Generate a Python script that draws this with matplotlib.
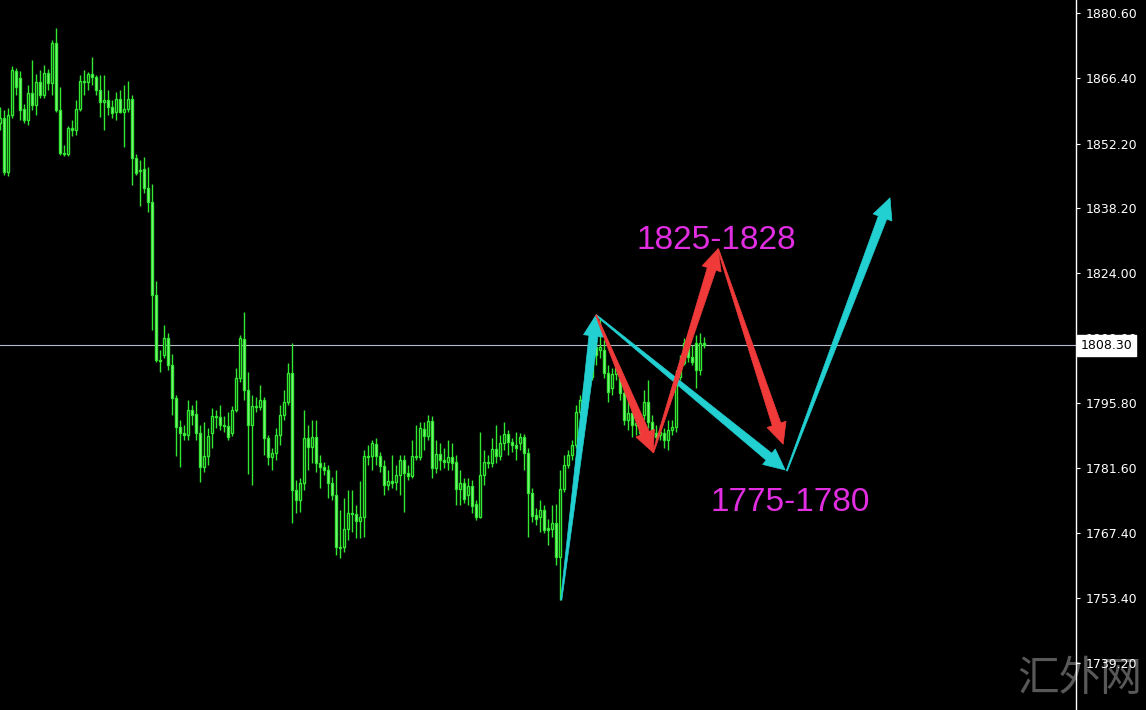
import matplotlib.pyplot as plt
import numpy as np
from matplotlib.patches import Polygon

# OHLC (one candle per bar, oldest first)
opens = [
    1856.7, 1857.8, 1846.0, 1858.4, 1868.0, 1866.5, 1859.7, 1857.3, 1863.2, 1860.6,
    1865.6, 1862.8, 1867.6, 1865.4, 1874.1, 1859.5, 1850.2, 1850.0, 1855.6, 1855.2,
    1859.7, 1865.8, 1865.6, 1867.3, 1866.7, 1863.8, 1861.2, 1861.7, 1860.2, 1859.1,
    1861.9, 1859.1, 1859.7, 1861.9, 1849.0, 1846.4, 1846.7, 1842.5, 1839.5, 1819.3,
    1805.1, 1806.2, 1809.9, 1804.0, 1796.9, 1790.5, 1789.2, 1788.8, 1794.3, 1793.4,
    1789.2, 1781.9, 1784.3, 1789.2, 1792.9, 1792.7, 1791.0, 1790.8, 1789.2, 1794.3,
    1801.2, 1809.7, 1798.6, 1791.0, 1795.1, 1794.9, 1796.4, 1788.1, 1784.0, 1784.9,
    1788.8, 1793.2, 1796.0, 1802.3, 1776.8, 1774.7, 1778.4, 1788.1, 1786.2, 1788.4,
    1782.7, 1781.9, 1781.2, 1778.4, 1775.8, 1764.4, 1764.4, 1768.4, 1771.8, 1771.6,
    1770.1, 1770.9, 1784.3, 1784.3, 1786.9, 1784.3, 1782.1, 1777.9, 1778.8, 1778.6,
    1780.1, 1783.4, 1780.5, 1779.9, 1784.0, 1784.0, 1790.1, 1788.6, 1791.9, 1781.6,
    1784.7, 1783.4, 1782.9, 1784.0, 1782.9, 1777.1, 1778.4, 1775.8, 1777.7, 1773.8,
    1771.0, 1780.1, 1782.9, 1782.7, 1785.8, 1784.3, 1787.1, 1789.0, 1787.3, 1786.6,
    1787.1, 1788.4, 1784.9, 1776.2, 1771.4, 1770.9, 1772.5, 1768.6, 1768.4, 1769.7,
    1762.3, 1777.1, 1782.3, 1784.5, 1786.6, 1793.8, 1796.4, 1799.0, 1801.4, 1807.9,
    1807.3, 1807.3, 1802.3, 1799.0, 1802.1, 1801.4, 1797.9, 1792.1, 1793.6, 1791.0,
    1791.4, 1793.2, 1796.0, 1791.6, 1789.2, 1788.8, 1789.2, 1787.7, 1789.9, 1790.5,
    1801.4, 1804.5, 1808.8, 1805.8, 1808.8, 1802.9, 1808.8,
]
highs = [
    1860.2, 1859.5, 1859.9, 1869.1, 1868.6, 1868.0, 1860.8, 1864.9, 1870.4, 1867.3,
    1868.2, 1869.3, 1868.4, 1874.7, 1877.3, 1864.5, 1851.8, 1856.0, 1857.3, 1861.7,
    1867.1, 1868.2, 1867.8, 1871.0, 1867.1, 1867.1, 1867.1, 1863.8, 1861.7, 1863.4,
    1863.8, 1864.9, 1865.8, 1862.8, 1850.0, 1848.6, 1849.3, 1847.1, 1843.4, 1822.3,
    1807.3, 1812.7, 1811.0, 1806.4, 1797.5, 1792.1, 1791.0, 1796.4, 1795.3, 1796.4,
    1791.0, 1791.6, 1790.3, 1794.7, 1794.3, 1795.3, 1792.9, 1793.8, 1795.1, 1803.4,
    1810.6, 1815.6, 1802.5, 1797.5, 1797.0, 1799.7, 1797.0, 1788.8, 1786.0, 1790.3,
    1795.3, 1798.6, 1804.5, 1808.8, 1779.0, 1779.5, 1794.3, 1791.0, 1792.1, 1792.1,
    1784.5, 1782.9, 1782.3, 1779.7, 1781.2, 1772.5, 1775.1, 1776.8, 1776.8, 1773.6,
    1778.8, 1785.5, 1786.6, 1787.7, 1788.1, 1785.1, 1783.4, 1781.2, 1784.5, 1782.3,
    1784.5, 1784.5, 1782.3, 1787.7, 1791.0, 1791.6, 1791.6, 1793.2, 1792.9, 1787.7,
    1787.1, 1786.0, 1787.7, 1787.1, 1784.5, 1781.2, 1779.5, 1779.5, 1779.0, 1774.7,
    1789.4, 1785.5, 1784.5, 1788.1, 1791.0, 1788.8, 1791.6, 1789.9, 1788.1, 1789.4,
    1789.2, 1789.0, 1786.0, 1777.3, 1772.9, 1774.7, 1773.6, 1770.5, 1773.6, 1773.8,
    1781.2, 1784.5, 1785.5, 1787.7, 1795.3, 1797.5, 1799.7, 1806.2, 1811.6, 1809.5,
    1814.3, 1809.5, 1804.0, 1803.4, 1805.1, 1803.4, 1799.7, 1796.4, 1795.3, 1793.2,
    1792.5, 1798.6, 1800.8, 1793.2, 1791.0, 1791.0, 1790.3, 1792.1, 1792.1, 1802.9,
    1806.2, 1809.9, 1810.6, 1808.4, 1810.6, 1811.0, 1810.1,
]
lows = [
    1855.2, 1845.4, 1845.2, 1857.8, 1862.8, 1857.3, 1856.7, 1856.2, 1859.5, 1858.4,
    1862.1, 1862.1, 1863.8, 1862.8, 1859.1, 1849.7, 1849.5, 1849.5, 1853.8, 1854.1,
    1859.3, 1862.8, 1863.8, 1864.9, 1862.8, 1858.0, 1855.2, 1858.4, 1857.8, 1857.3,
    1858.8, 1851.4, 1859.1, 1843.2, 1845.4, 1838.6, 1841.4, 1837.3, 1811.7, 1804.7,
    1802.5, 1805.6, 1802.9, 1793.2, 1784.3, 1781.9, 1787.7, 1787.7, 1791.0, 1787.7,
    1778.6, 1780.8, 1782.3, 1786.0, 1790.3, 1789.9, 1789.4, 1787.7, 1788.6, 1793.8,
    1800.3, 1796.4, 1780.3, 1777.9, 1793.8, 1794.3, 1784.5, 1782.3, 1781.2, 1783.4,
    1786.6, 1792.1, 1795.3, 1769.7, 1771.8, 1772.0, 1776.8, 1781.2, 1782.7, 1780.8,
    1777.3, 1780.1, 1775.1, 1774.7, 1762.7, 1762.0, 1763.4, 1766.0, 1767.7, 1766.4,
    1766.4, 1766.6, 1782.3, 1781.2, 1782.3, 1780.8, 1775.8, 1776.8, 1777.3, 1776.8,
    1775.8, 1772.0, 1779.0, 1779.5, 1783.4, 1783.4, 1785.5, 1787.7, 1779.5, 1780.5,
    1781.2, 1781.6, 1781.2, 1781.2, 1773.6, 1773.6, 1774.0, 1773.6, 1771.8, 1770.3,
    1770.8, 1777.9, 1781.6, 1781.9, 1782.7, 1783.4, 1785.5, 1784.5, 1785.1, 1783.4,
    1785.5, 1781.2, 1766.6, 1769.9, 1769.2, 1767.7, 1767.5, 1764.9, 1766.6, 1760.5,
    1752.9, 1776.4, 1781.6, 1783.4, 1786.0, 1793.2, 1795.3, 1798.2, 1800.8, 1804.0,
    1805.6, 1801.2, 1796.0, 1797.5, 1800.8, 1796.4, 1791.0, 1789.9, 1788.4, 1788.8,
    1788.1, 1792.1, 1790.3, 1787.7, 1787.3, 1787.7, 1786.0, 1785.5, 1788.8, 1789.4,
    1800.8, 1804.0, 1804.7, 1804.0, 1799.0, 1801.9, 1807.7,
]
closes = [
    1857.8, 1846.0, 1858.4, 1868.2, 1864.5, 1859.5, 1857.3, 1863.2, 1860.6, 1865.6,
    1862.8, 1867.6, 1865.4, 1874.1, 1859.5, 1850.2, 1850.0, 1855.6, 1855.2, 1859.7,
    1865.8, 1865.6, 1867.3, 1866.7, 1863.8, 1861.2, 1861.7, 1860.2, 1858.8, 1861.9,
    1859.1, 1859.7, 1861.9, 1849.0, 1845.8, 1846.2, 1842.5, 1839.5, 1819.3, 1805.1,
    1804.9, 1809.9, 1804.0, 1796.9, 1790.5, 1789.2, 1788.8, 1794.3, 1793.2, 1789.2,
    1781.9, 1784.3, 1788.6, 1792.9, 1792.7, 1791.0, 1790.8, 1788.4, 1794.3, 1801.2,
    1809.9, 1798.6, 1791.0, 1795.1, 1794.9, 1796.4, 1788.1, 1784.0, 1784.9, 1788.8,
    1793.2, 1796.0, 1802.3, 1776.8, 1774.7, 1778.4, 1788.1, 1786.2, 1788.4, 1782.7,
    1781.9, 1781.2, 1778.4, 1775.8, 1764.4, 1764.2, 1768.4, 1771.8, 1771.6, 1770.1,
    1770.9, 1784.3, 1784.0, 1787.1, 1784.3, 1782.1, 1777.9, 1778.8, 1778.4, 1780.1,
    1783.4, 1780.5, 1779.9, 1784.3, 1784.3, 1790.3, 1788.6, 1791.9, 1781.6, 1784.7,
    1783.4, 1782.9, 1784.0, 1782.7, 1777.1, 1778.4, 1774.9, 1777.7, 1773.4, 1771.0,
    1780.1, 1782.9, 1782.7, 1785.8, 1784.3, 1787.1, 1789.0, 1787.3, 1786.6, 1786.0,
    1788.4, 1784.9, 1776.2, 1771.2, 1770.5, 1772.5, 1768.1, 1768.1, 1769.7, 1762.3,
    1777.1, 1782.3, 1784.5, 1786.6, 1793.8, 1796.4, 1799.0, 1801.4, 1807.9, 1806.2,
    1807.9, 1802.3, 1798.2, 1802.1, 1803.4, 1797.9, 1792.1, 1793.6, 1791.0, 1791.4,
    1789.2, 1796.0, 1791.6, 1788.8, 1788.4, 1789.4, 1787.7, 1789.9, 1790.5, 1801.4,
    1804.5, 1808.8, 1805.8, 1804.7, 1802.9, 1808.8, 1808.3,
]

ytick_vals = [1880.6, 1866.4, 1852.2, 1838.2, 1824.0, 1809.9, 1795.8, 1781.6, 1767.4, 1753.4, 1739.2]
last_price = 1808.30

# arrows as (bar index, price) -> (bar index, price)
cyan_arrows = [(140.3, 1752.9, 149.0, 1814.9),
               (149.0, 1814.9, 196.3, 1781.2),
               (196.7, 1781.0, 222.5, 1840.4)]
red_arrows = [(149.0, 1814.9, 163.3, 1785.0),
              (163.3, 1785.0, 179.5, 1829.3),
              (179.5, 1829.3, 195.8, 1786.8)]

labels = [(179.0, 1831.2, "1825-1828"), (197.5, 1774.2, "1775-1780")]

W, H = 1146, 710
fig = plt.figure(figsize=(W / 100, H / 100), dpi=100, facecolor="black")
ax = fig.add_axes([0, 0, 1076 / W, 1])
ax.set_facecolor("black")
ax.set_xlim(0, 269)
ax.set_ylim(1729.0, 1883.43)

o = np.array(opens)
h = np.array(highs)
l = np.array(lows)
c = np.array(closes)
x = np.arange(len(c))

edge = "#33e833"
bear_fill = "#a8f5a8"
ax.vlines(x, l, h, color=edge, lw=1.0, zorder=2)
up = c >= o
body = np.maximum(np.abs(c - o), 0.25)
bottom = np.minimum(o, c)
ax.bar(x[up], body[up], bottom=bottom[up], width=0.55, color="black",
       edgecolor=edge, linewidth=1.0, zorder=3)
ax.bar(x[~up], body[~up], bottom=bottom[~up], width=0.55, color=bear_fill,
       edgecolor=edge, linewidth=1.0, zorder=3)

ax.axhline(last_price, color="#b4bccc", lw=0.8, zorder=1)


def tapered_arrow(x0, y0, x1, y1, color, w=9, hw=20, hl=21, z=5):
    p0 = ax.transData.transform((x0, y0))
    p1 = ax.transData.transform((x1, y1))
    d = p1 - p0
    u = d / np.hypot(*d)
    n = np.array([-u[1], u[0]])
    b = p1 - u * hl
    pts = [p0 + n * 0.6, b + n * w / 2, b + n * hw / 2, p1,
           b - n * hw / 2, b - n * w / 2, p0 - n * 0.6]
    pts = ax.transData.inverted().transform(np.array(pts))
    ax.add_patch(Polygon(pts, closed=True, fc=color, ec=color, lw=0.5, zorder=z))


for a in cyan_arrows:
    tapered_arrow(*a, color="#22d0d2", z=5)
for a in red_arrows:
    tapered_arrow(*a, color="#f03a3a", z=6)

for lx, ly, txt in labels:
    ax.text(lx, ly, txt, color="#e02ee0", fontsize=24, family="Liberation Sans",
            ha="center", va="center", zorder=7)

for s in ["top", "left", "bottom"]:
    ax.spines[s].set_visible(False)
ax.spines["right"].set_color("white")
ax.spines["right"].set_linewidth(1)
ax.set_xticks([])
ax.yaxis.tick_right()
ax.set_yticks(ytick_vals)
ax.set_yticklabels([f"{v:.2f}" for v in ytick_vals])
ax.tick_params(axis="y", colors="white", length=3, width=0.8, labelsize=9, pad=4)

ax.text(1.004, last_price, f"{last_price:.2f}", transform=ax.get_yaxis_transform(),
        color="black", fontsize=9, ha="left", va="center", clip_on=False, zorder=10,
        bbox=dict(boxstyle="square,pad=0.3", fc="white", ec="white"))

# watermark sits behind the price scale
ax.text(1080 / W, 1 - 680 / H, "汇外网", color="#585858", fontsize=30,
        family=["Noto Sans CJK SC", "DejaVu Sans"], ha="center", va="center",
        transform=fig.transFigure, clip_on=False, zorder=1)

fig.savefig("out.png", dpi=100, facecolor="black")
